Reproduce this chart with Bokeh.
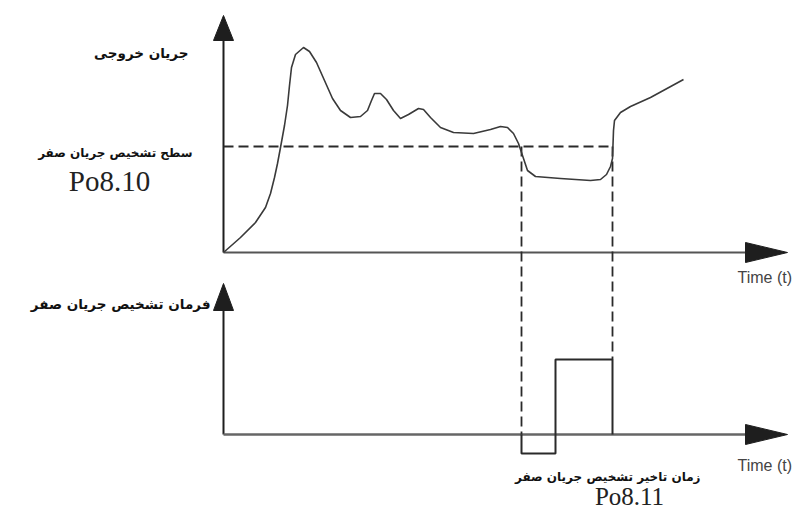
from bokeh.plotting import figure
from bokeh.models import Range1d
from bokeh.embed import file_html
from bokeh.resources import INLINE
from bokeh.core.properties import value

# ---- data (time units: t, current units: c) ----
time = [0, 17, 32, 42, 47, 51, 54, 57, 61, 64, 66, 68, 72, 80, 86, 93, 101, 109,
        117, 127, 137, 144, 148, 151, 157, 163, 170, 177, 185, 195, 200, 207, 217,
        230, 250, 267, 277, 284, 290, 295, 299, 304, 312, 337, 367, 377, 383, 387,
        389, 390, 391, 397, 407, 427, 460]
current = [0, 15, 30, 45, 59, 75, 89, 105, 127, 147, 167, 185, 198, 205, 201, 190, 172, 154,
           142, 135, 136, 142, 152, 159, 159, 153, 142, 134, 138, 144, 143, 135, 125,
           120, 119, 123, 126, 125, 119, 109, 97, 82, 76, 74, 72, 73, 78, 86,
           94, 122, 132, 140, 146, 155, 173]
threshold = 106            # Po8.10 zero current detection level
t_detect = 298             # current falls below level
t_delay_end = 332          # end of delay pulse
t_recover = 389            # current rises above level
cmd_time = [t_detect, t_detect, t_delay_end, t_delay_end, t_recover, t_recover]
cmd_level = [0, -19, -19, 75, 75, 0]

t_axis_end = 564
c_axis_top = 237
lower_base = -182          # vertical offset of the lower (command) panel
s_axis_top = 151

labels_fa = ["جریان خروجی", "سطح تشخیص جریان صفر", "فرمان تشخیص جریان صفر",
             "زمان تاخیر تشخیص جریان صفر"]
code_labels = ["Po8.10", "Po8.11"]
time_label = "Time (t)"

p = figure(width=796, height=509, output_backend="svg", toolbar_location=None,
           x_range=Range1d(-223, 573), y_range=Range1d(-257, 252), min_border=0)
p.axis.visible = False
p.grid.visible = False
p.outline_line_color = None
p.background_fill_color = "white"
p.border_fill_color = "white"

AX = "#1e1e1e"
# upper axes
p.line([0, 0], [0, c_axis_top - 20], line_color=AX, line_width=2)
p.line([0, t_axis_end - 35], [0, 0], line_color="#555555", line_width=2.2)
p.patch([-10, 0, 10], [c_axis_top - 25, c_axis_top, c_axis_top - 25], color=AX)
p.patch([t_axis_end - 42, t_axis_end, t_axis_end - 42], [10, 0, -10], color=AX)

# lower axes
p.line([0, 0], [lower_base, lower_base + s_axis_top - 20], line_color=AX, line_width=2)
p.line([0, t_axis_end - 35], [lower_base, lower_base], line_color="#666666", line_width=2.5)
p.patch([-10, 0, 10], [lower_base + s_axis_top - 27, lower_base + s_axis_top,
                       lower_base + s_axis_top - 27], color=AX)
p.patch([t_axis_end - 42, t_axis_end, t_axis_end - 42],
        [lower_base + 10, lower_base, lower_base - 10], color=AX)

# threshold and dashed guides
DASH = "10 5"
p.line([0, t_recover], [threshold, threshold], line_color="#2a2a2a", line_width=1.8, line_dash=DASH)
p.line([t_detect, t_detect], [threshold, lower_base], line_color="#2a2a2a", line_width=1.8, line_dash=DASH)
p.line([t_recover, t_recover], [threshold, lower_base + 75], line_color="#2a2a2a", line_width=1.8, line_dash=DASH)

# output current curve
p.line(time, current, line_color="#3a3a3a", line_width=1.6, line_join="round")

# detection command signal
p.line(cmd_time, [lower_base + v for v in cmd_level], line_color="#2a2a2a", line_width=2)

FA = value("DejaVu Sans")
def fa_text(x, y, s, size):
    p.text(x=[x], y=[y], text=[s], text_font=FA, text_font_size=size,
           text_font_style="bold", text_align="right", text_baseline="middle",
           text_color="#111111")

fa_text(-35, 200, labels_fa[0], "13.5px")
fa_text(-31, 100, labels_fa[1], "12px")
fa_text(-13, -51, labels_fa[2], "13.5px")
fa_text(477, -224, labels_fa[3], "12px")

SERIF = value("Liberation Serif")
p.text(x=[-114], y=[72], text=[code_labels[0]], text_font=SERIF, text_font_size="29px",
       text_align="center", text_baseline="middle", text_color="#222222")
p.text(x=[406], y=[-244], text=[code_labels[1]], text_font=SERIF, text_font_size="25px",
       text_align="center", text_baseline="middle", text_color="#222222")

SANS = value("Liberation Sans")
p.text(x=[514, 514], y=[-25, -213], text=[time_label, time_label], text_font=SANS,
       text_font_size="16px", text_align="left", text_baseline="middle", text_color="#444444")

open("out.html", "w").write(file_html(p, INLINE))
